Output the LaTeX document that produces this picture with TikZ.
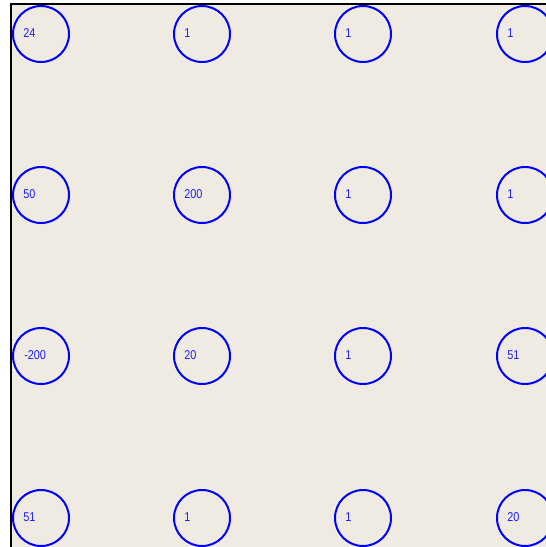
\documentclass[tikz,border=0pt]{standalone}
\usepackage{fontspec}
\setmainfont{Liberation Sans}
\definecolor{bgbeige}{HTML}{EFEBE2}
\definecolor{ringblue}{HTML}{0000FF}
\definecolor{txtblue}{RGB}{30,30,255}
\begin{document}
\begin{tikzpicture}[x=0.75pt,y=-0.75pt,
  ring/.style={circle,draw=ringblue,line width=1.5pt,minimum size=56*0.75pt,inner sep=0pt},
  val/.style={anchor=west,text=txtblue,font=\fontsize{9.6pt}{11pt}\selectfont,inner sep=0pt}]
\useasboundingbox (0,0) rectangle (546,547);
\fill[white] (0,0) rectangle (546,547);
\fill[bgbeige] (11,4) rectangle (546,547);
\draw[black,line width=1.5pt] (10.5,547) -- (10.5,4) -- (546,4);
\begin{scope}
\clip (11,5) rectangle (546,547);
\foreach \r/\y in {1/34,2/195,3/356,4/518}{
  \foreach \c/\x in {1/41,2/202,3/363,4/525}{
    \node[ring] (n\r\c) at (\x,\y) {};
  }
}
\end{scope}
\node[val] (t11) at (23,33.5) {\scalebox{0.85}[1]{24}};
\node[val] (t12) at (184,33.5) {\scalebox{0.85}[1]{1}};
\node[val] (t13) at (345,33.5) {\scalebox{0.85}[1]{1}};
\node[val] (t14) at (507,33.5) {\scalebox{0.85}[1]{1}};
\node[val] (t21) at (23,194.5) {\scalebox{0.85}[1]{50}};
\node[val] (t22) at (184,194.5) {\scalebox{0.85}[1]{200}};
\node[val] (t23) at (345,194.5) {\scalebox{0.85}[1]{1}};
\node[val] (t24) at (507,194.5) {\scalebox{0.85}[1]{1}};
\node[val] (t31) at (24,355.5) {\scalebox{0.85}[1]{-200}};
\node[val] (t32) at (184,355.5) {\scalebox{0.85}[1]{20}};
\node[val] (t33) at (345,355.5) {\scalebox{0.85}[1]{1}};
\node[val] (t34) at (507,355.5) {\scalebox{0.85}[1]{51}};
\node[val] (t41) at (23,517.5) {\scalebox{0.85}[1]{51}};
\node[val] (t42) at (184,517.5) {\scalebox{0.85}[1]{1}};
\node[val] (t43) at (345,517.5) {\scalebox{0.85}[1]{1}};
\node[val] (t44) at (507,517.5) {\scalebox{0.85}[1]{20}};
\end{tikzpicture}
\end{document}
